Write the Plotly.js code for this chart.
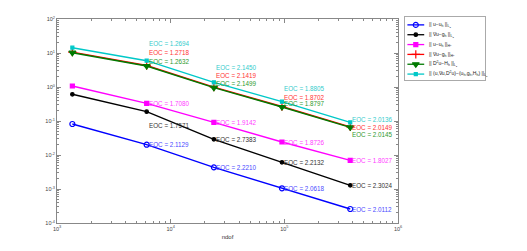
<!DOCTYPE html>
<html><head><meta charset="utf-8">
<script src="https://cdn.plot.ly/plotly-3.0.1.min.js"></script>
<style>html,body{margin:0;padding:0;background:#fff}#c{width:527px;height:251px}</style>
</head><body><div id="c"></div>
<script>
// ---- data ----
const ndof = [1365, 6150, 24000, 95300, 380000];
const errL2 = [0.0817, 0.0201, 0.00434, 0.00105, 0.000258];
const errGradL2 = [0.61, 0.188, 0.0289, 0.00608, 0.00128];
const errH1 = [1.07, 0.331, 0.091, 0.0241, 0.00697];
const errGradH1 = [10.6, 4.3, 0.99, 0.267, 0.067];
const errHessL2 = [10.2, 4.15, 0.955, 0.258, 0.0652];
const errAll = [14.3, 5.94, 1.37, 0.37, 0.091];

const eocL2 = ['2.1129', '2.2210', '2.0618', '2.0112'];
const eocGradL2 = ['1.7571', '2.7383', '2.2132', '2.3024'];
const eocH1 = ['1.7080', '1.9142', '1.8726', '1.8027'];
const eocGradH1 = ['1.2718', '2.1419', '1.8702', '2.0149'];
const eocHessL2 = ['1.2632', '2.1499', '1.8797', '2.0145'];
const eocAll = ['1.2694', '2.1450', '1.8805', '2.0136'];

const xTickVals = [1e3, 1e4, 1e5, 1e6];
const xTickText = ['10<sup>3</sup>', '10<sup>4</sup>', '10<sup>5</sup>', '10<sup>6</sup>'];
const yTickVals = [1e-4, 1e-3, 1e-2, 1e-1, 1e0, 1e1, 1e2];
const yTickText = ['10<sup>-4</sup>', '10<sup>-3</sup>', '10<sup>-2</sup>', '10<sup>-1</sup>', '10<sup>0</sup>', '10<sup>1</sup>', '10<sup>2</sup>'];

const legendNames = [
  '|| u−u<sub>h</sub> ||<sub>L<sub>2</sub></sub>',
  '|| ∇u−g<sub>h</sub> ||<sub>L<sub>2</sub></sub>',
  '|| u−u<sub>h</sub> ||<sub>H<sup>1</sup></sub>',
  '|| ∇u−g<sub>h</sub> ||<sub>H<sup>1</sup></sub>',
  '|| D<sup>2</sup>u−H<sub>h</sub> ||<sub>L<sub>2</sub></sub>',
  '|| (u,∇u,D<sup>2</sup>u)−(u<sub>h</sub>,g<sub>h</sub>,H<sub>h</sub>) ||<sub>L<sub>2</sub></sub>'
];
const xTitle = 'ndof';

// ---- styles ----
const series = [
  {y: errL2, eoc: eocL2, color: '#0000ff', tcolor: '#4a4aff', sym: 'circle-open', size: 5, anchor: errL2, shifts: [0,0,0,0]},
  {y: errGradL2, eoc: eocGradL2, color: '#000000', tcolor: '#333333', sym: 'circle', size: 3.5, anchor: errGradL2, shifts: [-14,0,0,0]},
  {y: errH1, eoc: eocH1, color: '#ff00ff', tcolor: '#ff40ff', sym: 'square', size: 4, anchor: errH1, shifts: [0,0,0,0]},
  {y: errGradH1, eoc: eocGradH1, color: '#ff0000', tcolor: '#ff3333', sym: 'cross-thin-open', size: 6, anchor: errHessL2, shifts: [13,12,10,0]},
  {y: errHessL2, eoc: eocHessL2, color: '#007a00', tcolor: '#2f9a2f', sym: 'triangle-down', size: 6, anchor: errHessL2, shifts: [4,4,4,-7]},
  {y: errAll, eoc: eocAll, color: '#00c8c8', tcolor: '#33cccc', sym: 'square', size: 3, anchor: errHessL2, shifts: [22,20,19,8]}
];

const traces = [];
const annotations = [];
const font = 'Liberation Sans, Arial, sans-serif';
series.forEach((s, i) => {
  traces.push({
    x: ndof, y: s.y, type: 'scatter', mode: 'lines+markers', showlegend: false,
    line: {color: s.color, width: 1.4},
    marker: {symbol: s.sym, size: s.size, color: s.color, line: {color: s.color, width: 1.2}},
    cliponaxis: false
  });
  s.eoc.forEach((e, k) => {
    annotations.push({
      x: Math.log10(ndof[k + 1]), y: Math.log10(s.anchor[k + 1]), xref: 'x', yref: 'y',
      text: 'EOC = ' + e, showarrow: false, xanchor: 'left', yanchor: 'middle',
      xshift: 0, yshift: s.shifts[k], font: {family: font, size: 6.3, color: s.tcolor}
    });
  });
  // legend entries (drawn on a small auxiliary axis)
  const ly = 5.5 - i;
  traces.push({
    x: [0.03, 0.24], y: [ly, ly], xaxis: 'x2', yaxis: 'y2', type: 'scatter', mode: 'lines',
    showlegend: false, hoverinfo: 'skip', line: {color: s.color, width: 1.3}
  });
  traces.push({
    x: [0.135], y: [ly], xaxis: 'x2', yaxis: 'y2', type: 'scatter', mode: 'markers',
    showlegend: false, hoverinfo: 'skip',
    marker: {symbol: s.sym, size: s.size, color: s.color, line: {color: s.color, width: 1.2}}
  });
  annotations.push({
    x: 0.27, y: ly, xref: 'x2', yref: 'y2', text: legendNames[i], showarrow: false,
    xanchor: 'left', yanchor: 'middle', font: {family: font, size: 5, color: '#222'}
  });
});

const axCommon = {
  type: 'log', showgrid: false, zeroline: false, showline: true, mirror: 'allticks',
  linecolor: '#888', linewidth: 1, ticks: 'inside', ticklen: 4, tickcolor: '#888',
  tickmode: 'array',
  tickfont: {family: font, size: 5.5, color: '#444'},
  minor: {ticks: 'inside', ticklen: 2, tickcolor: '#888', dtick: 'D1', showgrid: false}
};

const layout = {
  width: 527, height: 251,
  margin: {l: 57, r: 20, t: 17, b: 28},
  paper_bgcolor: '#fff', plot_bgcolor: '#fff',
  showlegend: false,
  xaxis: Object.assign({}, axCommon, {domain: [0, 341 / 450], range: [3, 6],
    tickvals: xTickVals, ticktext: xTickText,
    title: {text: xTitle, font: {family: font, size: 6, color: '#333'}, standoff: 4}}),
  yaxis: Object.assign({}, axCommon, {domain: [0, 204 / 206], range: [-4, 2],
    tickvals: yTickVals, ticktext: yTickText}),
  xaxis2: {domain: [348 / 450, 428 / 450], range: [0, 1], showgrid: false, zeroline: false,
    showticklabels: false, ticks: '', showline: true, mirror: true, linecolor: '#aaa', linewidth: 1, anchor: 'y2', fixedrange: true},
  yaxis2: {domain: [143 / 206, 1], range: [-0.1, 6.3], showgrid: false, zeroline: false,
    showticklabels: false, ticks: '', showline: true, mirror: true, linecolor: '#aaa', linewidth: 1, anchor: 'x2', fixedrange: true},
  annotations: annotations
};

Plotly.newPlot('c', traces, layout, {displayModeBar: false, staticPlot: true});
</script>
</body></html>
